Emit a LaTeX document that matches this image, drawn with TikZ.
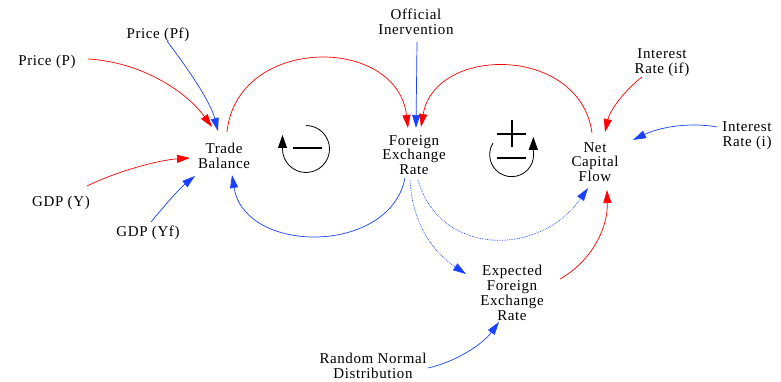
\documentclass[tikz,border=0pt]{standalone}
\usepackage{fontspec}
\setmainfont{Liberation Serif}[LetterSpace=4]
\usetikzlibrary{arrows.meta}

\definecolor{posred}{RGB}{255,0,0}
\definecolor{negblue}{RGB}{25,65,255}

\tikzset{
  var/.style={align=center, inner sep=0pt, font=\fontsize{15}{14.8}\selectfont},
  link/.style={line width=0.7pt, -{Triangle[length=13pt,width=8pt]}},
  poslink/.style={link, posred},
  neglink/.style={link, negblue},
  delayed/.style={densely dotted},
  loopsym/.style={line width=0.8pt, -{Triangle[length=13pt,width=9pt]}},
  sign/.style={line width=1.3pt}
}

\begin{document}
\begin{tikzpicture}[x=1pt,y=-1pt]
    \useasboundingbox (0,0) rectangle (781,382);

    % variables
    \node [var] (pp) at (47,62) {Price (P)};
    \node [var] (ppf) at (158,35) {Price (Pf)};
    \node [var] (tb) at (224,156) {Trade\\Balance};
    \node [var] (gy) at (61,203) {GDP (Y)};
    \node [var] (gyf) at (148,233) {GDP (Yf)};
    \node [var] (oi) at (416,22) {Official\\Inervention};
    \node [var] (fer) at (414,155) {Foreign\\Exchange\\Rate};
    \node [var] (ncf) at (595,162) {Net\\Capital\\Flow};
    \node [var] (irf) at (662,63) {Interest\\Rate (if)};
    \node [var] (iri) at (747,136) {Interest\\Rate (i)};
    \node [var] (efer) at (512,293) {Expected\\Foreign\\Exchange\\Rate};
    \node [var] (rnd) at (373,366) {Random Normal\\Distribution};

    % links into trade balance
    \draw [poslink] ([shift={(41,-3)}]pp.center) .. controls +(52,3) and +(-27,-37) .. ([shift={(-12,-29)}]tb.center);
    \draw [neglink] ([shift={(9,6)}]ppf.center) .. controls +(18,24) and +(-8,-31) .. ([shift={(-6,-25)}]tb.center);
    \draw [poslink] ([shift={(26,-17)}]gy.center) .. controls +(33,-16) and +(-30,2) .. ([shift={(-34,2)}]tb.center);
    \draw [neglink] ([shift={(3,-11)}]gyf.center) .. controls +(14,-17) and +(-15,12) .. ([shift={(-29,20)}]tb.center);

    % the two loops
    \draw [poslink] ([shift={(3,-24)}]tb.center) .. controls +(10,-97) and +(-11,-93) .. ([shift={(-6,-27)}]fer.center);
    \draw [neglink] ([shift={(1,20)}]oi.center) -- ([shift={(2,-27)}]fer.center);
    \draw [poslink] ([shift={(-3,-29)}]ncf.center) .. controls +(-12,-88) and +(14,-82) .. ([shift={(7,-28)}]fer.center);
    \draw [neglink] ([shift={(-9,23)}]fer.center) .. controls +(-15,77) and +(13,80) .. ([shift={(8,19)}]tb.center);
    \draw [neglink, delayed] ([shift={(4,25)}]fer.center) .. controls +(22,77) and +(-48,69) .. ([shift={(-7,26)}]ncf.center);
    \draw [neglink, delayed] ([shift={(-4,25)}]fer.center) .. controls +(2,40) and +(-36,-24) .. ([shift={(-46,-19)}]efer.center);

    % links into capital flow
    \draw [poslink] ([shift={(48,-14)}]efer.center) .. controls +(30,-17) and +(1,40) .. ([shift={(12,28)}]ncf.center);
    \draw [neglink] ([shift={(55,2)}]rnd.center) .. controls +(27,-6) and +(-17,23) .. ([shift={(-13,29)}]efer.center);
    \draw [poslink] ([shift={(-20,14)}]irf.center) .. controls +(-17,13) and +(5,-22) .. ([shift={(10,-30)}]ncf.center);
    \draw [neglink] ([shift={(-30,-9)}]iri.center) .. controls +(-27,-5) and +(27,-13) .. ([shift={(38,-22)}]ncf.center);

    % loop signs
    \draw [loopsym] (306,125.5) arc [start angle=90, end angle=-180, radius=23.5pt] -- ++(0,-14);
    \draw [sign] (293,148) -- (322,148);

    \draw [loopsym] (493,143) arc [start angle=148, end angle=370, radius=22pt] -- ++(0,-14);
    \draw [sign] (497,134) -- (526,134);
    \draw [sign] (512,120) -- (512,147);
    \draw [sign] (497,158) -- (526,158);
\end{tikzpicture}
\end{document}
